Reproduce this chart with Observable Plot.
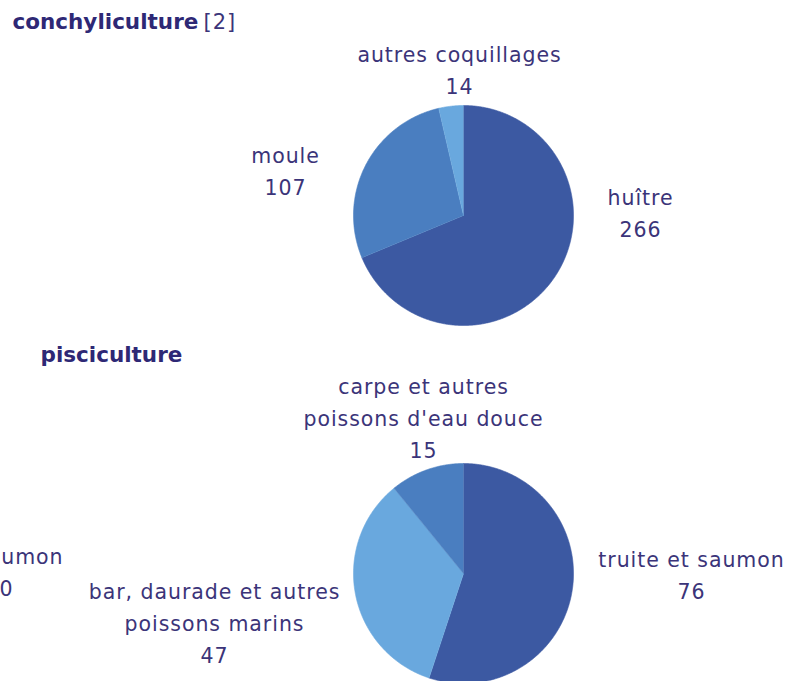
<!DOCTYPE html>
<html><head><meta charset="utf-8">
<script src="https://cdn.jsdelivr.net/npm/d3@7"></script>
<script src="https://cdn.jsdelivr.net/npm/@observablehq/plot@0.6"></script>
<style>body{margin:0;background:#fff;overflow:hidden}</style>
</head><body><div id="chart"></div>
<script>
// ---- data ----
const shellCategories = ["huître", "moule", "autres coquillages"];
const shellValues = [266, 107, 14];
const fishCategories = ["truite et saumon", "bar, daurade et autres\npoissons marins", "carpe et autres\npoissons d'eau douce"];
const fishValues = [76, 47, 15];
const titles = ["conchyliculture", "pisciculture"];
const titleNotes = ["[2]", ""];
// clipped neighbouring label at the left edge
const clippedLabel = ["truite et saumon", "0"];

// ---- layout & style ----
const W = 789, H = 681;
const tones = {dark: "#3c59a2", medium: "#4a7ec0", light: "#69a8de"};
const shellTones = ["dark", "medium", "light"];
const fishTones = ["dark", "light", "medium"];
const pies = [
  {cats: shellCategories, vals: shellValues, tones: shellTones, cx: 463, cy: 215, r: 110,
   labelPos: [[640, 210], [285, 168], [459, 67.5]]},
  {cats: fishCategories, vals: fishValues, tones: fishTones, cx: 463, cy: 573, r: 110,
   labelPos: [[691, 572], [214, 620], [423, 415]]}
];
const textColor = "#3b3479";
const titleColor = "#2e2875";
const labelFont = 20.5;

// ---- build wedges & labels ----
const wedgePts = [];
const labels = [];
pies.forEach((p, pi) => {
  const arcs = d3.pie().sort(null).value(d => d)(p.vals);
  arcs.forEach((a, i) => {
    const key = pi + "-" + i;
    wedgePts.push({key, tone: p.tones[i], x: p.cx, y: p.cy});
    const n = Math.max(2, Math.ceil((a.endAngle - a.startAngle) / (Math.PI / 360)));
    for (let k = 0; k <= n; k++) {
      const t = a.startAngle + (a.endAngle - a.startAngle) * k / n;
      wedgePts.push({key, tone: p.tones[i], x: p.cx + p.r * Math.sin(t), y: p.cy - p.r * Math.cos(t)});
    }
    labels.push({x: p.labelPos[i][0], y: p.labelPos[i][1], text: p.cats[i] + "\n" + p.vals[i]});
  });
});

const titleData = [
  {x: 12, y: 22, t: titles[0], note: titleNotes[0]},
  {x: 40, y: 355, t: titles[1], note: titleNotes[1]}
];

const chart = Plot.plot({
  width: W, height: H,
  margin: 0,
  x: {domain: [0, W], range: [0, W], axis: null},
  y: {domain: [0, H], range: [0, H], axis: null},
  color: {domain: Object.keys(tones), range: Object.values(tones)},
  style: {fontFamily: "DejaVu Sans", background: "#fff", letterSpacing: "0.95px"},
  marks: [
    Plot.line(wedgePts, {x: "x", y: "y", z: "key", fill: "tone", stroke: "tone", strokeWidth: 0.6}),
    Plot.text(labels, {x: "x", y: "y", text: "text", fill: textColor, fontSize: labelFont, lineHeight: 1.56, lineAnchor: "middle", textAnchor: "middle"}),
    Plot.text(titleData, {x: "x", y: "y", text: "t", fill: titleColor, fontSize: 21.5, fontWeight: 900, textAnchor: "start", lineAnchor: "middle"}),
    Plot.text([titleData[0]], {x: d => d.x + 191, y: "y", text: "note", fill: textColor, fontSize: 21, fontWeight: 400, textAnchor: "start", lineAnchor: "middle"}),
    Plot.text([clippedLabel[0]], {x: [63], y: [557], text: d => d, fill: textColor, fontSize: labelFont, textAnchor: "end", lineAnchor: "middle"}),
    Plot.text([clippedLabel[1]], {x: [13], y: [589], text: d => d, fill: textColor, fontSize: labelFont, textAnchor: "end", lineAnchor: "middle"})
  ]
});
d3.select(chart).selectAll("g[font-weight='900']").attr("letter-spacing", "0px");
document.getElementById("chart").appendChild(chart);
</script>
</body></html>
